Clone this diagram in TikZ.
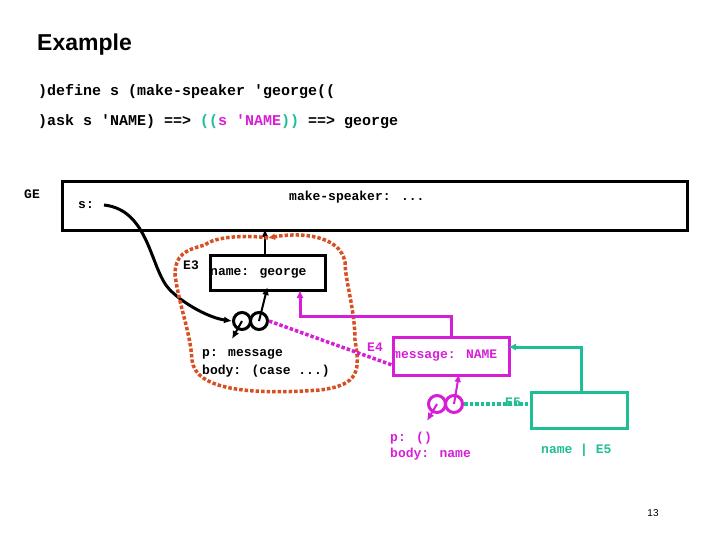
\documentclass[tikz,border=0pt]{standalone}
\usepackage{fontspec}
\setmainfont{Liberation Sans}
\newfontfamily\mono{Liberation Mono}
\usetikzlibrary{arrows.meta}
\definecolor{mag}{RGB}{215,30,215}
\definecolor{tl}{RGB}{30,190,150}
\definecolor{org}{RGB}{215,80,35}
\begin{document}
\begin{tikzpicture}[x=1pt,y=-1pt,
  tt/.style={font=\mono\bfseries\fontsize{13}{15}\selectfont,inner sep=0pt,anchor=west},
  box/.style={draw,line width=3pt,inner sep=0pt},
  arr/.style={-{Latex[length=8pt,width=7pt]},line width=2pt},
  circ/.style={draw,line width=3pt,circle,minimum size=17pt,inner sep=0pt}]
\useasboundingbox (0,0) rectangle (720,540);
\node[font=\bfseries\fontsize{23}{26}\selectfont,anchor=west,inner sep=0pt] (title) at (37,45) {Example};
\node[tt,font=\mono\bfseries\fontsize{15}{17}\selectfont] (l1) at (38,92) {)define s (make-speaker 'george((};
\node[tt,font=\mono\bfseries\fontsize{15}{17}\selectfont] (l2) at (38,122) {)ask s 'NAME) ==> \textcolor{tl}{((}\textcolor{mag}{s 'NAME}\textcolor{tl}{))} ==> george};
\node[tt] (ge) at (24,194) {GE};
% global env
\node[box,minimum width=625pt,minimum height=49pt,anchor=north west] (gbox) at (61,180) {};
\node[tt] (s) at (78,205) {s:};
\node[tt] (ms) at (289,197) {make-speaker: ...};
\coordinate (sdot) at (104,205);
% E3
\node[box,minimum width=115pt,minimum height=35pt,anchor=north west] (e3) at (209,254) {};
\node[tt] (e3t) at (210,273) {name: george};
\node[tt] (e3l) at (183,265) {E3};
\draw[arr] (265,254) -- (265,229);
\node[circ] (c1) at (242,321) {};
\node[circ] (c2) at (259,321) {};
\draw[arr,shorten >=-2pt] (c2.center) -- (267,289);
\draw[arr] (c1.center) -- (232,339);
\draw[arr,line width=3pt] (sdot) .. controls (150,210) and (150,270) .. (170,290) .. controls (185,305) and (210,318) .. (c1.west);
\node[tt] (p1) at (202,354) {p: message};
\node[tt] (b1) at (202,371) {body: (case ...)};
% orange blob
\draw[org,line width=3.5pt,dotted,-{Latex[length=7pt,width=7pt]}] (268,238) .. controls (250,235) and (215,236) .. (205,245) .. controls (185,250) and (175,255) .. (175,275) .. controls (180,310) and (190,330) .. (192,360) .. controls (195,390) and (250,395) .. (320,390) .. controls (360,385) and (360,370) .. (355,340) .. controls (355,310) and (345,280) .. (345,262) .. controls (340,235) and (300,232) .. (268,238);
% E4
\node[box,draw=mag,minimum width=116pt,minimum height=38pt,anchor=north west] (e4) at (392,336) {};
\node[tt,text=mag] (e4t) at (393,356) {message: NAME};
\node[tt,text=mag] (e4l) at (367,347) {E4};
\draw[mag,line width=3.5pt,dotted] (c2.east) -- (e4.west |- 0,365);
\draw[arr,draw=mag,line width=3pt] (451,336) -- (451,316) -- (300,316) -- (300,290);
\node[circ,draw=mag] (c3) at (437,404) {};
\node[circ,draw=mag] (c4) at (454,404) {};
\draw[arr,mag] (c4.center) -- (459,374);
\draw[arr,mag] (c3.center) -- (427,421);
\node[tt,text=mag] (p2) at (390,438) {p: ()};
\node[tt,text=mag] (b2) at (390,454) {body: name};
% E5
\node[box,draw=tl,minimum width=96pt,minimum height=36pt,anchor=north west] (e5) at (530,391) {};
\node[tt,text=tl] (e5l) at (505,402) {E5};
\draw[tl,line width=3.5pt,dotted] (c4.east) -- (e5.west |- c4);
\draw[arr,draw=tl,line width=3pt] (581,391) -- (581,347) -- (508,347);
\node[tt,text=tl] (nm) at (541,450) {name | E5};
\node[font=\fontsize{10}{12}\selectfont,inner sep=0pt] (pg) at (653,513) {13};
\end{tikzpicture}
\end{document}
